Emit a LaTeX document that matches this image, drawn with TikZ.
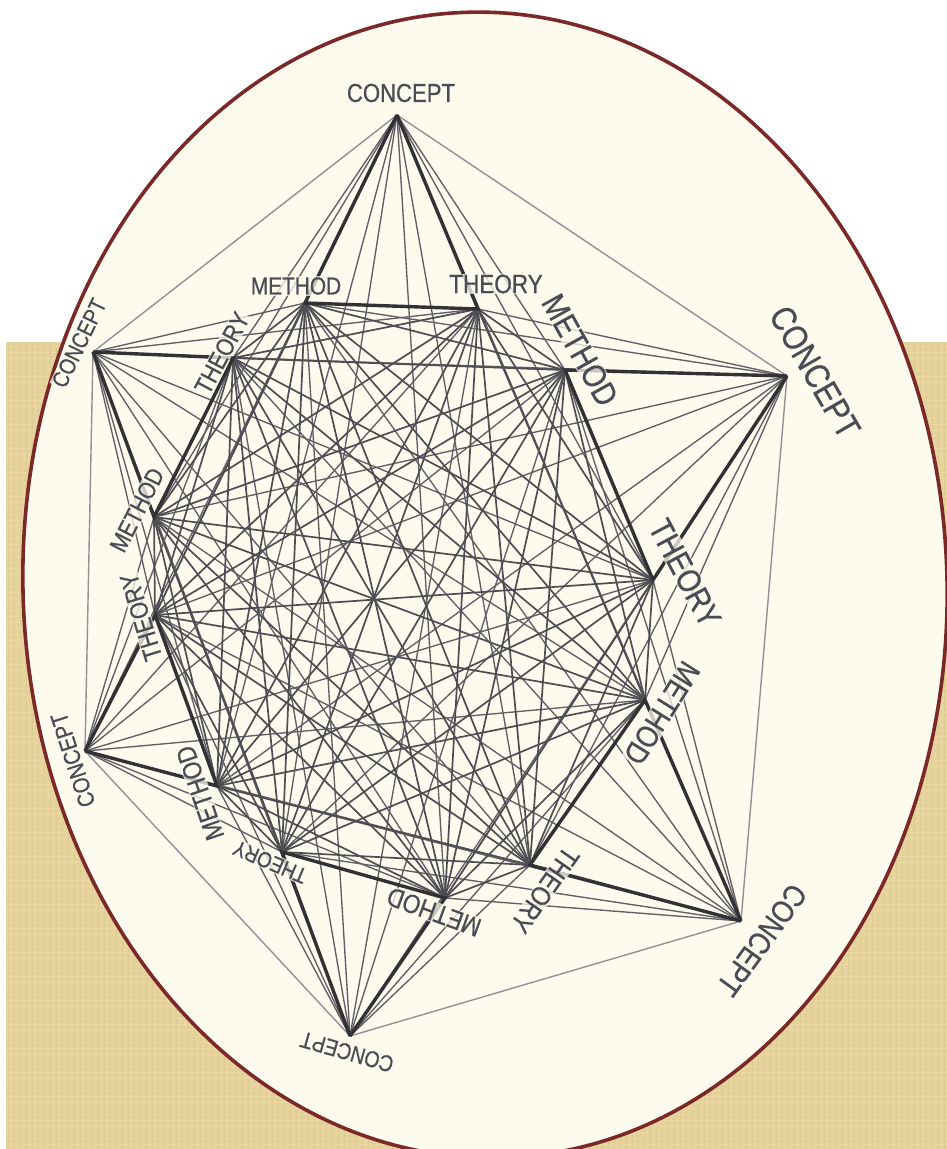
\documentclass[tikz,border=0pt]{standalone}
\usepackage{fontspec}
\setmainfont{Liberation Sans}
\newfontfamily\labfont[FakeBold=0.7]{Liberation Sans}
\definecolor{tanbg}{RGB}{230,211,156}
\definecolor{tandark}{RGB}{205,180,118}
\definecolor{tanlight}{RGB}{243,231,192}
\definecolor{cream}{RGB}{253,250,238}
\definecolor{rim}{RGB}{122,40,40}
\definecolor{labc}{RGB}{74,76,84}
\definecolor{innerc}{RGB}{78,78,82}
\definecolor{fanc}{RGB}{95,95,100}
\definecolor{hexc}{RGB}{145,145,150}
\definecolor{boldc}{RGB}{50,50,52}
\tikzset{
  innerline/.style={draw=innerc, line width=1.7pt},
  fanline/.style={draw=fanc, line width=1.35pt},
  hexline/.style={draw=hexc, line width=1.4pt},
  boldline/.style={draw=boldc, line width=3.4pt},
  lab/.style={font=\labfont\fontsize{#1}{#1}\selectfont, text=labc, inner sep=1pt,
              xscale=0.85, fill=cream, fill opacity=0.75, text opacity=1}
}
\begin{document}
\begin{tikzpicture}[x=1pt,y=-1pt]
\useasboundingbox (0,0) rectangle (947,1149);
\begin{scope}
\clip (0,0) rectangle (947,1149);
\fill[white] (0,0) rectangle (947,1149);
\fill[tanbg] (6,342) rectangle (947,1149);
\foreach \x in {8,14,...,947} {\draw[tandark, opacity=0.25, line width=1pt] (\x,342) -- (\x,1149);}
\foreach \y in {346,352,...,1149} {\draw[tanlight, opacity=0.3, line width=1pt] (6,\y) -- (947,\y);}
\draw[rim, line width=3.6pt, fill=cream, rotate around={2:(485,585)}] (485,585) ellipse [x radius=462, y radius=573];
\end{scope}

% vertices
\coordinate (C1) at (397,115);
\coordinate (C2) at (787,376);
\coordinate (C3) at (741,921);
\coordinate (C4) at (350,1036);
\coordinate (C5) at (85,751);
\coordinate (C6) at (93,352);
\coordinate (N1) at (305,303);
\coordinate (N2) at (478,309);
\coordinate (N3) at (565,370);
\coordinate (N4) at (653,580);
\coordinate (N5) at (645,700);
\coordinate (N6) at (530,865);
\coordinate (N7) at (445,898);
\coordinate (N8) at (282,852);
\coordinate (N9) at (217,786);
\coordinate (N10) at (155,615);
\coordinate (N11) at (154,517);
\coordinate (N12) at (233,358);

% outer hexagon
\draw[hexline] (C1) -- (C2) -- (C3) -- (C4) -- (C5) -- (C6) -- (C1);
% concept fans
\foreach \c in {1,...,6} {\foreach \j in {1,...,12} {\draw[fanline] (C\c) -- (N\j);}}
% inner complete graph
\foreach \i in {1,...,11} {
  \pgfmathtruncatemacro\nxt{\i+1}
  \foreach \j in {\nxt,...,12} {\draw[innerline] (N\i) -- (N\j);}
}
% bold triangles
\draw[boldline] (C1) -- (N1) -- (N2) -- (C1);
\draw[boldline] (C2) -- (N3) -- (N4) -- (C2);
\draw[boldline] (C3) -- (N5) -- (N6) -- (C3);
\draw[boldline] (C4) -- (N7) -- (N8) -- (C4);
\draw[boldline] (C5) -- (N9) -- (N10) -- (C5);
\draw[boldline] (C6) -- (N11) -- (N12) -- (C6);

% labels
\node[lab=26] (lC1) at (401,93) {CONCEPT};
\node[rotate=-60, lab=35] (lC2) at (815,372) {CONCEPT};
\node[rotate=-126, lab=31] (lC3) at (762,940) {CONCEPT};
\node[rotate=164, lab=23] (lC4) at (347,1052) {CONCEPT};
\node[rotate=108, lab=23.5] (lC5) at (73,760) {CONCEPT};
\node[rotate=64, lab=23] (lC6) at (79,343) {CONCEPT};
\node[lab=24.5] (lN1) at (296,286) {METHOD};
\node[lab=26.5] (lN2) at (496,284) {THEORY};
\node[rotate=-61, lab=33] (lN3) at (580,350) {METHOD};
\node[rotate=-62, lab=33] (lN4) at (685,573) {THEORY};
\node[rotate=-122, lab=31] (lN5) at (662,713) {METHOD};
\node[rotate=-125, lab=27.5] (lN6) at (545,890) {THEORY};
\node[rotate=160, lab=26.5] (lN7) at (434,912) {METHOD};
\node[rotate=157, lab=22] (lN8) at (270,862) {THEORY};
\node[rotate=109, lab=26.5] (lN9) at (200,793) {METHOD};
\node[rotate=107, lab=25.5] (lN10) at (141,617) {THEORY};
\node[rotate=63, lab=24.5] (lN11) at (137,510) {METHOD};
\node[rotate=62, lab=25] (lN12) at (222,353) {THEORY};
\end{tikzpicture}
\end{document}
